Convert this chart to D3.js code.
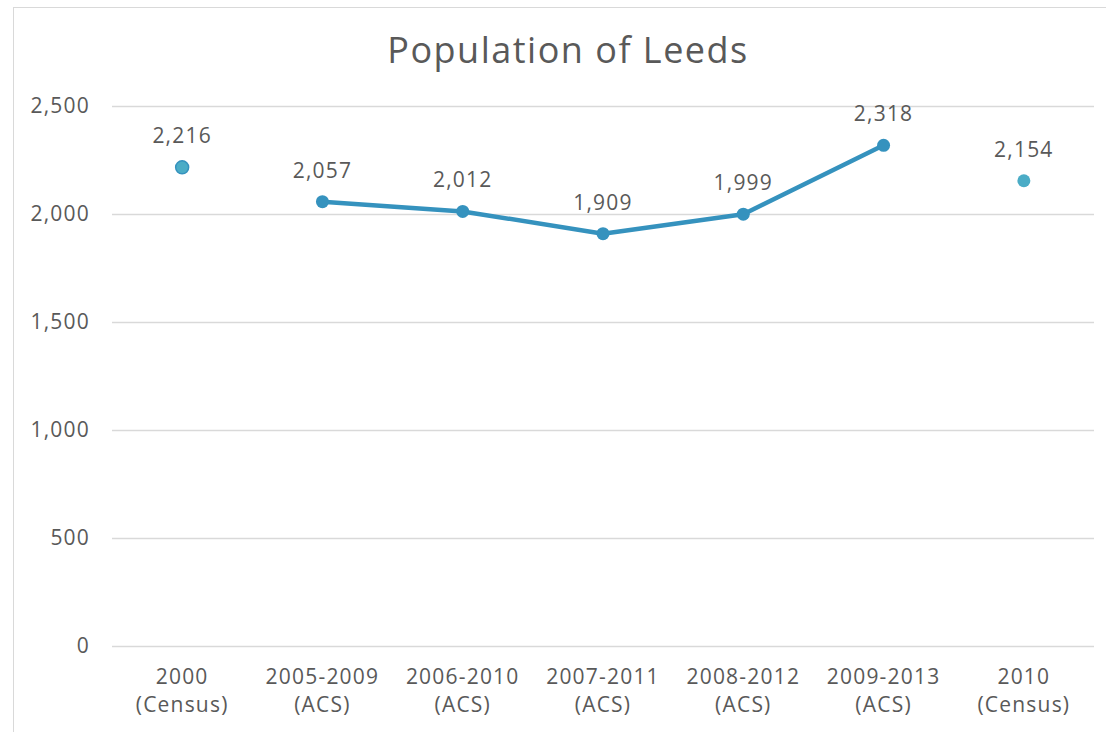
<!DOCTYPE html>
<html>
<head>
<meta charset="utf-8">
<script src="https://cdn.jsdelivr.net/npm/d3@7"></script>
<style>
  body { margin: 0; background: #fff; }
  text { font-family: "Open Sans", "Lato", sans-serif; fill: #595959; letter-spacing: 1.2px; }
</style>
</head>
<body>
<svg id="svg"></svg>
<script>
var categories = ["2000|(Census)", "2005-2009|(ACS)", "2006-2010|(ACS)", "2007-2011|(ACS)",
                  "2008-2012|(ACS)", "2009-2013|(ACS)", "2010|(Census)"];
var census2000 = [2216, null, null, null, null, null, null];
var acsValues = [null, 2057, 2012, 1909, 1999, 2318, null];
var census2010 = [null, null, null, null, null, null, 2154];
var yTicks = [0, 500, 1000, 1500, 2000, 2500];

var width = 1106, height = 732;
var svg = d3.select("#svg").attr("width", width).attr("height", height);

// chart border
svg.append("rect")
    .attr("x", 13.5).attr("y", 7.5)
    .attr("width", 1100).attr("height", 740)
    .attr("fill", "none").attr("stroke", "#d9d9d9");

var x = d3.scaleBand().domain(d3.range(categories.length)).range([112, 1094]);
var y = d3.scaleLinear().domain([0, 2500]).range([646, 106]);

svg.append("text")
    .attr("x", 568).attr("y", 63)
    .attr("text-anchor", "middle")
    .style("font-size", "36px")
    .style("letter-spacing", "1.5px")
    .text("Population of Leeds");

// grid + y labels
svg.append("g").selectAll("line")
  .data(yTicks)
  .enter().append("line")
    .attr("x1", 112).attr("x2", 1094)
    .attr("y1", function(d) { return Math.round(y(d)) + 0.5; })
    .attr("y2", function(d) { return Math.round(y(d)) + 0.5; })
    .attr("stroke", "#d9d9d9").attr("stroke-width", 1.5);

svg.append("g").selectAll("text")
  .data(yTicks)
  .enter().append("text")
    .attr("x", 90).attr("y", function(d) { return y(d) + 7; })
    .attr("text-anchor", "end")
    .style("font-size", "21px")
    .text(function(d) { return d3.format(",")(d); });

// x labels
var xl = svg.append("g").selectAll("text")
  .data(categories)
  .enter().append("text")
    .attr("text-anchor", "middle")
    .style("font-size", "21px")
    .attr("transform", function(d, i) { return "translate(" + (x(i) + x.bandwidth() / 2) + ",684)"; });
xl.append("tspan").attr("x", 0).attr("y", 0).text(function(d) { return d.split("|")[0]; });
xl.append("tspan").attr("x", 0).attr("y", 28).text(function(d) { return d.split("|")[1]; });

function cx(i) { return x(i) + x.bandwidth() / 2; }

function drawSeries(vals, color, stroke, withLine) {
  var pts = vals.map(function(v, i) { return { i: i, v: v }; }).filter(function(d) { return d.v != null; });
  var g = svg.append("g");
  if (withLine) {
    g.append("path")
        .datum(pts)
        .attr("fill", "none")
        .attr("stroke", color)
        .attr("stroke-width", 4.5)
        .attr("stroke-linejoin", "round")
        .attr("d", d3.line().x(function(d) { return cx(d.i); }).y(function(d) { return y(d.v); }));
  }
  g.selectAll("circle")
    .data(pts)
    .enter().append("circle")
      .attr("cx", function(d) { return cx(d.i); })
      .attr("cy", function(d) { return y(d.v); })
      .attr("r", 6.5)
      .attr("fill", color)
      .attr("stroke", stroke || "none")
      .attr("stroke-width", 1.5);
  g.selectAll("text")
    .data(pts)
    .enter().append("text")
      .attr("x", function(d) { return cx(d.i); })
      .attr("y", function(d) { return y(d.v) - 24; })
      .attr("text-anchor", "middle")
      .style("font-size", "21px")
      .text(function(d) { return d3.format(",")(d.v); });
}

drawSeries(acsValues, "#3592be", null, true);
drawSeries(census2000, "#4bacc6", "#3592be", false);
drawSeries(census2010, "#4bacc6", null, false);
</script>
</body>
</html>
